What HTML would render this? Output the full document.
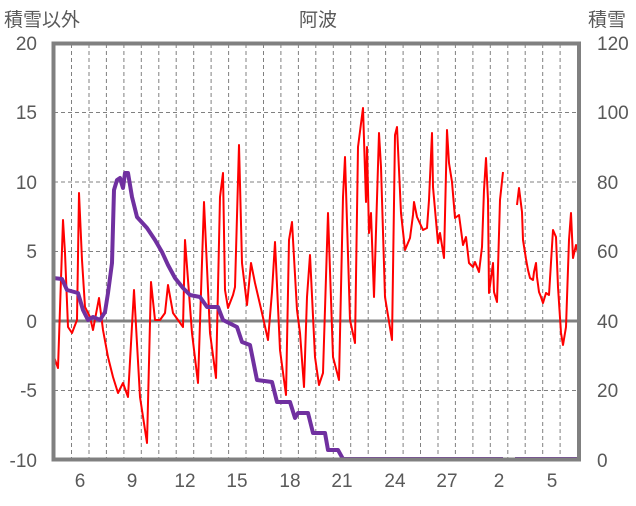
<!DOCTYPE html>
<html><head><meta charset="utf-8"><style>
body{margin:0;background:#fff;}
svg text{font-family:"Liberation Sans","Noto Sans CJK JP",sans-serif;fill:#595959;font-size:19px;}
</style></head><body>
<svg width="636" height="501" viewBox="0 0 636 501" xmlns="http://www.w3.org/2000/svg">
<rect width="636" height="501" fill="#fff"/>
<g stroke="#808080" stroke-width="1" stroke-dasharray="4,3" fill="none">
<line x1="54" x2="579" y1="112.5" y2="112.5"/>
<line x1="54" x2="579" y1="182" y2="182"/>
<line x1="54" x2="579" y1="251.5" y2="251.5"/>
<line x1="54" x2="579" y1="390.5" y2="390.5"/>
<path id="vg" d="M71.5 44V459M89 44V459M106.4 44V459M123.9 44V459M141.3 44V459M158.8 44V459M176.2 44V459M193.7 44V459M211.1 44V459M228.6 44V459M246 44V459M263.5 44V459M280.9 44V459M298.4 44V459M315.8 44V459M333.3 44V459M350.7 44V459M368.2 44V459M385.6 44V459M403.1 44V459M420.5 44V459M438 44V459M455.4 44V459M472.9 44V459M490.3 44V459M507.8 44V459M525.2 44V459M542.7 44V459M560.1 44V459"/>
</g>
<line x1="54" x2="579" y1="321" y2="321" stroke="#808080" stroke-width="3"/>
<polyline fill="none" stroke="#ff0000" stroke-width="2" stroke-linejoin="round" points="54,357 58,368 63,220 65,253 68,327 72,333 77,320 79,193 82,260 85,307 90,317 93,330 99,298 103,330 108,357 113,377 118,393 123,383 128,397 134,290 140,397 147,443 151,282 155,320 160,320 165,313 168,285 173,313 178,320 183,327 185,240 192,333 198,383 204,202 210,333 216,378 220,197 223,173 225,290 228,308 233,295 235,287 239,145 242,263 247,305 251,263 255,283 262,313 268,340 272,292 275,242 280,350 286,395 289,240 292,222 297,310 300,333 304,387 307,297 310,255 315,357 319,385 323,373 328,213 333,357 339,380 343,197 345,157 350,320 355,343 358,147 363,108 366,202 367,147 369,233 371,213 374,297 379,133 381,167 385,297 392,340 395,135 397,127 401,213 405,250 410,238 413,215 414,202 417,217 423,230 427,228 429,200 432,133 433,187 438,243 440,233 444,258 447,130 449,163 452,182 455,218 459,215 463,245 466,237 469,263 473,267 475,262 479,272 482,247 484,190 486,158 488,200 489,293 493,263 494,292 497,302 500,200 503,172"/>
<polyline fill="none" stroke="#ff0000" stroke-width="2" stroke-linejoin="round" points="517,205 519,188 522,212 523,240 526,259 528,270 530,278 533,280 534,272 536,263 537,277 539,292 541,297 543,303 546,293 549,295 553,230 556,237 558,287 561,333 563,345 566,327 569,240 571,213 573,258 576,245 578,253 579,267"/>
<polyline fill="none" stroke="#7030a0" stroke-width="4" stroke-linejoin="round" points="53,278 62,279 67,290 78,293 83,310 88,320 93,317 100,320 105,312 108,293 112,263 114,190 117,180 120,178 123,188 125,173 128,173 132,197 137,217 147,228 155,240 162,252 168,265 175,278 183,288 190,295 200,297 207,307 218,307 223,320 237,327 242,342 250,345 257,380 272,382 277,402 290,402 295,418 298,413 308,413 313,433 325,433 328,450 338,450 343,459 503,459"/>
<line x1="515" x2="578" y1="459" y2="459" stroke="#7030a0" stroke-width="4"/>
<rect x="53.5" y="43.5" width="525.5" height="416" fill="none" stroke="#808080" stroke-width="4"/>
<g text-anchor="end">
<text x="37" y="50">20</text><text x="37" y="119">15</text><text x="37" y="189">10</text><text x="37" y="258">5</text><text x="37" y="328">0</text><text x="37" y="397">-5</text><text x="37" y="467">-10</text>
</g>
<g text-anchor="start">
<text x="597" y="50">120</text><text x="597" y="119">100</text><text x="597" y="189">80</text><text x="597" y="258">60</text><text x="597" y="328">40</text><text x="597" y="397">20</text><text x="597" y="467">0</text>
</g>
<g text-anchor="middle">
<text x="80" y="487">6</text><text x="132" y="487">9</text><text x="185" y="487">12</text><text x="237" y="487">15</text><text x="290" y="487">18</text><text x="342" y="487">21</text><text x="395" y="487">24</text><text x="447" y="487">27</text><text x="499" y="487">2</text><text x="552" y="487">5</text>
<text x="318" y="26">阿波</text>
</g>
<text x="4" y="26">積雪以外</text>
<text x="588" y="26">積雪</text>
</svg>
</body></html>
